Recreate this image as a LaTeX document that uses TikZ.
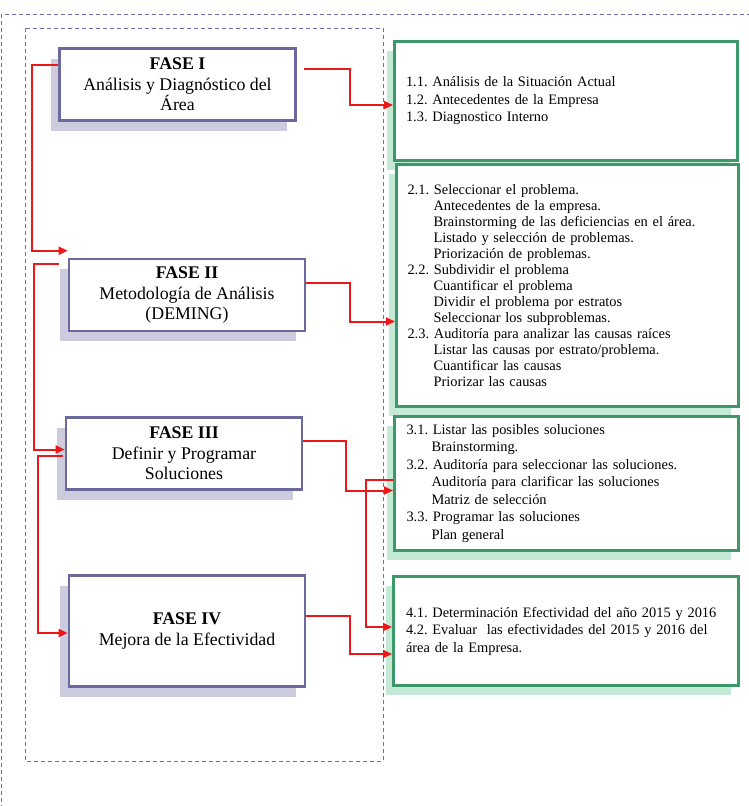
\documentclass[tikz,border=0pt]{standalone}
\usepackage{fontspec}
\setmainfont{Liberation Serif}
\usepackage{tikz}
\usetikzlibrary{arrows.meta,shadows}
\definecolor{fasecol}{RGB}{108,105,158}
\definecolor{fasesombra}{RGB}{204,204,222}
\definecolor{verde}{RGB}{60,152,105}
\definecolor{verdesombra}{RGB}{196,233,212}
\definecolor{rojo}{RGB}{236,24,24}
\definecolor{borde}{RGB}{112,110,176}
\frenchspacing
\tikzset{
  fase/.style={draw=fasecol, line width=2.6pt, fill=white, minimum width=236, minimum height=72,
    align=center, font=\fontsize{17.8}{20.5}\selectfont,
    drop shadow={shadow xshift=-9pt, shadow yshift=-10pt, fill=fasesombra, opacity=1}},
  tarea/.style={draw=verde, line width=3pt, fill=white, inner xsep=11pt, text width=320pt,
    align=left, font=\fontsize{14.4}{17.5}\selectfont,
    drop shadow={shadow xshift=-8pt, shadow yshift=-9pt, fill=verdesombra, opacity=1}},
  enlace/.style={draw=rojo, line width=2pt, -{Triangle[length=9pt,width=8pt]}},
  marco/.style={draw=borde, line width=0.9pt, dash pattern=on 4pt off 3pt}
}
\begin{document}
\begin{tikzpicture}[x=1pt,y=-1pt]
\useasboundingbox (0,0) rectangle (749,806);
\draw[marco] (1,14) rectangle (760,820);
\draw[marco] (25,28) rectangle (383,761);

\node[fase] (f1) at (177.5,84.5) {\textbf{FASE I}\\Análisis y Diagnóstico del\\Área};
\node[fase] (f2) at (187,295) {\textbf{FASE II}\\Metodología de Análisis\\(DEMING)};
\node[fase] (f3) at (184,453.5) {\textbf{FASE III}\\Definir y Programar\\Soluciones};
\node[fase, minimum height=111] (f4) at (187,631) {\textbf{FASE IV}\\Mejora de la Efectividad};

\node[tarea, minimum width=343, minimum height=119] (d1) at (566,101)
  {1.1. Análisis de la Situación Actual\\
   1.2. Antecedentes de la Empresa\\
   1.3. Diagnostico Interno};
\node[tarea, minimum width=342, minimum height=242, font=\fontsize{14.4}{16}\selectfont] (d2) at (567.5,285.5)
  {2.1. Seleccionar el problema.\\
   \hspace*{26pt}Antecedentes de la empresa.\\
   \hspace*{26pt}Brainstorming de las deficiencias en el área.\\
   \hspace*{26pt}Listado y selección de problemas.\\
   \hspace*{26pt}Priorización de problemas.\\
   2.2. Subdividir el problema\\
   \hspace*{26pt}Cuantificar el problema\\
   \hspace*{26pt}Dividir el problema por estratos\\
   \hspace*{26pt}Seleccionar los subproblemas.\\
   2.3. Auditoría para analizar las causas raíces\\
   \hspace*{26pt}Listar las causas por estrato/problema.\\
   \hspace*{26pt}Cuantificar las causas\\
   \hspace*{26pt}Priorizar las causas};
\node[tarea, minimum width=344, minimum height=134] (d3) at (566.5,483.5)
  {3.1. Listar las posibles soluciones\\
   \hspace*{25pt}Brainstorming.\\
   3.2. Auditoría para seleccionar las soluciones.\\
   \hspace*{25pt}Auditoría para clarificar las soluciones\\
   \hspace*{25pt}Matriz de selección\\
   3.3. Programar las soluciones\\
   \hspace*{25pt}Plan general};
\node[tarea, minimum width=345, minimum height=109] (d4) at (566,631)
  {4.1. Determinación Efectividad del año 2015 y 2016\\
   4.2. Evaluar\ \ las efectividades del 2015 y 2016 del\\
   área de la Empresa.};

\draw[enlace] ([xshift=7pt,yshift=16pt]f1.east) -- ++(46,0) |- ([yshift=-4pt]d1.west);
\draw[enlace] ([yshift=20pt]f1.west) -- ++(-26,0) |- ([yshift=7pt]f2.north west);
\draw[enlace] ([xshift=-9pt,yshift=-6pt]f2.north west) -- ++(-25,0) |- ([yshift=4pt]f3.west);
\draw[enlace] ([xshift=-2pt,yshift=-2pt]f3.west) -- ++(-25,0) |- ([yshift=-2pt]f4.west);
\draw[enlace] ([yshift=12pt]f2.east) -- ++(44,0) |- ([yshift=-36pt]d2.west);
\draw[enlace] ([yshift=13pt]f3.east) -- ++(43,0) |- ([yshift=-7pt]d3.west);
\draw[enlace] ([yshift=4pt]d3.west) -- ++(-27,0) |- ([yshift=4pt]d4.west);
\draw[enlace] ([yshift=15pt]f4.east) -- ++(44,0) |- ([yshift=-23pt]d4.west);
\end{tikzpicture}
\end{document}
